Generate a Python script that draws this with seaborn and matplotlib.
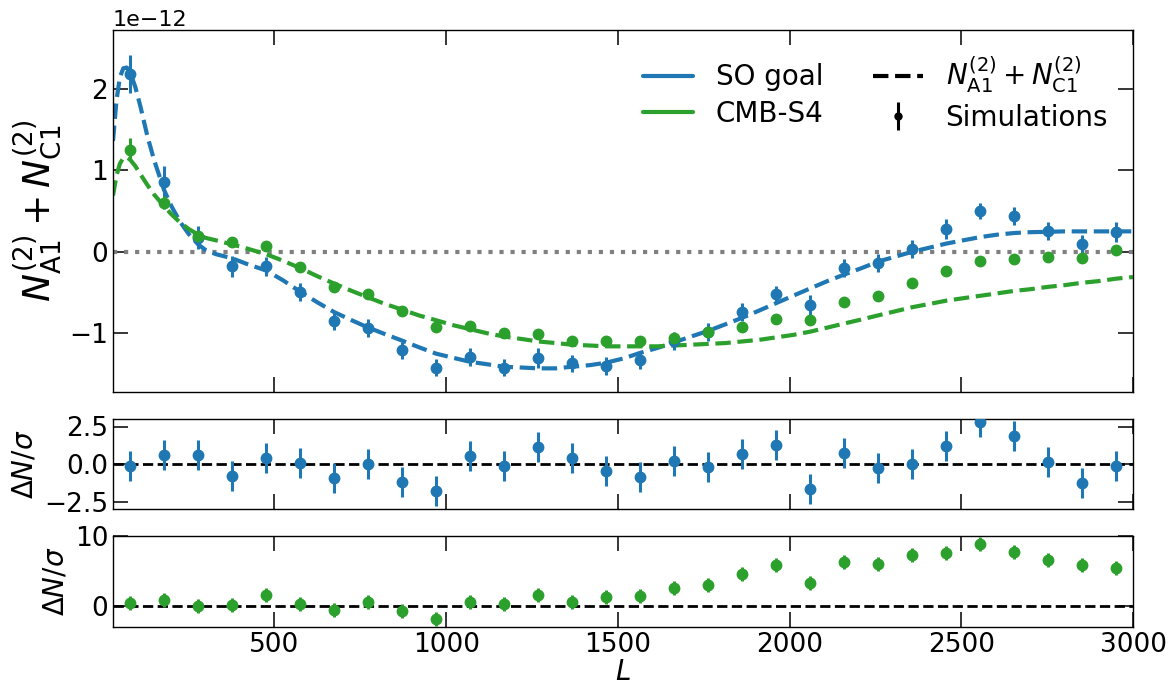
import numpy as np
import pandas as pd
import matplotlib
matplotlib.use("Agg")
import matplotlib.pyplot as plt
import seaborn as sns
from matplotlib.lines import Line2D

# ---------------- data ----------------
L_bins = [79.5, 178.5, 277.5, 376.5, 475.5, 574.5, 673.5, 772.5, 871.5, 970.5,
          1069.5, 1168.5, 1267.5, 1366.5, 1465.5, 1564.5, 1663.5, 1762.5, 1861.5, 1960.5,
          2059.5, 2158.5, 2257.5, 2356.5, 2455.5, 2554.5, 2653.5, 2752.5, 2851.5, 2950.5]

so_sim = [2.18, 0.86, 0.17, -0.18, -0.18, -0.49, -0.85, -0.93, -1.21, -1.42,
          -1.29, -1.42, -1.30, -1.37, -1.40, -1.33, -1.10, -0.98, -0.74, -0.52,
          -0.65, -0.195, -0.14, 0.03, 0.28, 0.50, 0.44, 0.26, 0.09, 0.24]
so_err = [0.23, 0.19, 0.14, 0.13, 0.12, 0.11, 0.11, 0.11, 0.10, 0.10,
          0.11, 0.10, 0.12, 0.10, 0.11, 0.11, 0.11, 0.11, 0.11, 0.10,
          0.12, 0.11, 0.11, 0.11, 0.12, 0.10, 0.11, 0.11, 0.11, 0.12]

s4_sim = [1.25, 0.60, 0.19, 0.12, 0.07, -0.19, -0.43, -0.52, -0.73, -0.92,
          -0.91, -1.00, -1.01, -1.10, -1.10, -1.10, -1.06, -0.99, -0.92, -0.82,
          -0.84, -0.61, -0.54, -0.38, -0.23, -0.11, -0.09, -0.07, -0.08, 0.02]
s4_err = [0.14, 0.08, 0.06, 0.05, 0.05, 0.05, 0.05, 0.05, 0.05, 0.045,
          0.05, 0.05, 0.05, 0.05, 0.05, 0.05, 0.05, 0.05, 0.05, 0.05,
          0.05, 0.05, 0.05, 0.05, 0.05, 0.05, 0.05, 0.05, 0.05, 0.05]

so_resid = [-0.11, 0.60, 0.60, -0.80, 0.40, 0.04, -0.91, 0.00, -1.22, -1.77,
            0.51, -0.15, 1.11, 0.40, -0.49, -0.86, 0.20, -0.18, 0.64, 1.26,
            -1.66, 0.75, -0.24, 0.02, 1.17, 2.83, 1.88, 0.13, -1.26, -0.13]
s4_resid = [0.48, 0.81, 0.00, 0.14, 1.63, 0.33, -0.62, 0.62, -0.72, -1.82,
            0.57, 0.33, 1.58, 0.62, 1.34, 1.44, 2.58, 3.01, 4.59, 5.84,
            3.35, 6.32, 5.98, 7.22, 7.51, 8.85, 7.70, 6.51, 5.79, 5.45]

L_theory = [30, 40, 50, 60, 70, 80, 95, 110, 130, 150, 178.5, 200, 225, 250, 278, 300,
            330, 377, 420, 476, 525, 575, 625, 674, 725, 773, 822, 872, 920, 971,
            1020, 1070, 1120, 1169, 1220, 1268, 1320, 1367, 1420, 1466, 1515, 1565,
            1615, 1664, 1713, 1763, 1813, 1862, 1912, 1961, 2010, 2060, 2110, 2159,
            2210, 2258, 2308, 2357, 2407, 2456, 2505, 2555, 2605, 2654, 2700, 2753,
            2800, 2852, 2900, 2951, 3000]
so_theory = [1.36, 1.85, 2.14, 2.25, 2.26, 2.20, 2.02, 1.78, 1.42, 1.12, 0.76, 0.56, 0.37, 0.22, 0.09, 0.02,
             -0.03, -0.08, -0.15, -0.23, -0.35, -0.49, -0.62, -0.74, -0.84, -0.93, -1.01, -1.09, -1.17, -1.25,
             -1.30, -1.35, -1.38, -1.41, -1.42, -1.43, -1.43, -1.41, -1.39, -1.36, -1.31, -1.24,
             -1.18, -1.11, -1.04, -0.97, -0.89, -0.81, -0.72, -0.63, -0.54, -0.45, -0.36, -0.28,
             -0.20, -0.12, -0.06, 0.00, 0.05, 0.10, 0.14, 0.18, 0.21, 0.23, 0.24, 0.245,
             0.25, 0.25, 0.25, 0.25, 0.25]
s4_theory = [0.69, 0.93, 1.08, 1.15, 1.16, 1.13, 1.05, 0.95, 0.82, 0.70, 0.56, 0.46, 0.36, 0.28, 0.21, 0.17,
             0.14, 0.09, 0.04, -0.03, -0.11, -0.20, -0.30, -0.39, -0.48, -0.56, -0.64, -0.71, -0.78, -0.84,
             -0.90, -0.95, -1.00, -1.04, -1.07, -1.10, -1.12, -1.14, -1.15, -1.16, -1.16, -1.16,
             -1.16, -1.15, -1.14, -1.13, -1.12, -1.10, -1.08, -1.05, -1.02, -0.98, -0.93, -0.88,
             -0.83, -0.78, -0.73, -0.68, -0.64, -0.60, -0.57, -0.54, -0.51, -0.48, -0.46, -0.43,
             -0.41, -0.38, -0.36, -0.33, -0.31]

scale = 1e-12
blue = "#1f77b4"
green = "#2ca02c"

# ---------------- style ----------------
sns.set_style("ticks")
plt.rcParams['font.family'] = ['DejaVu Sans']
plt.rcParams['mathtext.fontset'] = 'dejavusans'
plt.rcParams['text.color'] = 'black'
plt.rcParams['axes.labelcolor'] = 'black'
plt.rcParams['xtick.color'] = 'black'
plt.rcParams['ytick.color'] = 'black'

fig = plt.figure(figsize=(11.68, 6.86), dpi=100)
ax1 = fig.add_axes([113/1168, 1-392/686, 1020/1168, 362/686])
ax2 = fig.add_axes([113/1168, 1-509/686, 1020/1168, 90/686], sharex=ax1)
ax3 = fig.add_axes([113/1168, 1-627/686, 1020/1168, 91/686], sharex=ax1)

theory_df = pd.DataFrame({
    "L": L_theory * 2,
    "N": [v * scale for v in so_theory] + [v * scale for v in s4_theory],
    "exp": ["SO goal"] * len(L_theory) + ["CMB-S4"] * len(L_theory),
})

# top panel
ax1.axhline(0, color="gray", ls=":", lw=3, zorder=1)
sns.lineplot(data=theory_df, x="L", y="N", hue="exp", palette={"SO goal": blue, "CMB-S4": green},
             ax=ax1, lw=3, legend=False, sort=False, estimator=None)
for ln in ax1.get_lines()[1:]:
    ln.set_linestyle("--")
ax1.errorbar(L_bins, [v * scale for v in so_sim], yerr=[v * scale for v in so_err],
             fmt="o", color=blue, ms=7.5, elinewidth=2.2, capsize=0, zorder=3)
ax1.errorbar(L_bins, [v * scale for v in s4_sim], yerr=[v * scale for v in s4_err],
             fmt="o", color=green, ms=7.5, elinewidth=2.2, capsize=0, zorder=3)
ax1.set_ylim(-1.72e-12, 2.72e-12)
ax1.set_yticks([-1e-12, 0, 1e-12, 2e-12])
ax1.set_ylabel(r"$N^{(2)}_{\rm A1}+N^{(2)}_{\rm C1}$", fontsize=27)
ax1.yaxis.get_offset_text().set_fontsize(16)

sim_handle = ax1.errorbar([np.nan], [np.nan], yerr=[np.nan], fmt="o", color="k", ms=5, elinewidth=2.2)
handles = [Line2D([], [], color=blue, lw=3), Line2D([], [], color=green, lw=3),
           Line2D([], [], color="k", lw=3, ls="--"), sim_handle]
labels = ["SO goal", "CMB-S4", r"$N^{(2)}_{\rm A1}+N^{(2)}_{\rm C1}$", "Simulations"]
ax1.legend(handles, labels, ncol=2, frameon=False, fontsize=20, loc="upper right",
           bbox_to_anchor=(1.0, 1.0), handlelength=1.8, columnspacing=1.8, labelspacing=0.3)

# middle panel
ax2.axhline(0, color="k", ls="--", lw=2, zorder=1)
ax2.errorbar(L_bins, so_resid, yerr=[1.0] * len(L_bins), fmt="o", color=blue, ms=7.5,
             elinewidth=2.2, capsize=0, zorder=3)
ax2.set_ylim(-3, 3)
ax2.set_yticks([-2.5, 0.0, 2.5])
ax2.set_ylabel(r"$\Delta N/\sigma$", fontsize=20)

# bottom panel
ax3.axhline(0, color="k", ls="--", lw=2, zorder=1)
ax3.errorbar(L_bins, s4_resid, yerr=[1.0] * len(L_bins), fmt="o", color=green, ms=7.5,
             elinewidth=2.2, capsize=0, zorder=3)
ax3.set_ylim(-3, 10)
ax3.set_yticks([0, 10])
ax3.set_ylabel(r"$\Delta N/\sigma$", fontsize=20)

ax1.set_xlim(30, 3000)
ax3.set_xticks([500, 1000, 1500, 2000, 2500, 3000])

for ax in (ax1, ax2, ax3):
    ax.tick_params(direction="in", top=True, right=True, length=10.5, width=1.1,
                   labelsize=19, colors="k")
    for sp in ax.spines.values():
        sp.set_color("k")
        sp.set_linewidth(1.0)
ax1.tick_params(labelbottom=False)
ax2.tick_params(labelbottom=False)
ax1.set_xlabel("")
ax2.set_xlabel("")
ax3.set_xlabel(r"$L$", fontsize=20, labelpad=0)

fig.savefig("out.png", dpi=100)
